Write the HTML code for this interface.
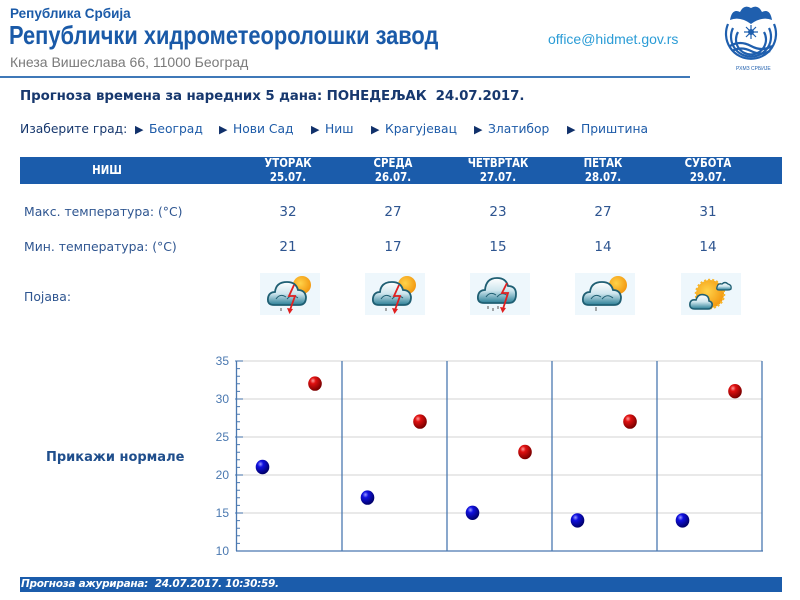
<!DOCTYPE html>
<html><head><meta charset="utf-8">
<style>
*{margin:0;padding:0;box-sizing:border-box}
body{width:800px;height:600px;background:#fff;position:relative;overflow:hidden;font-family:"DejaVu Sans","Liberation Sans",sans-serif}
.a{position:absolute;white-space:nowrap}
.hd{font-family:"Liberation Sans",sans-serif;color:#1a5aa8;font-weight:bold}
.lbl{color:#2e5590;font-size:12.4px;line-height:14px}
.num{color:#2e5590;font-size:13.5px;line-height:14px;width:60px;text-align:center}
.th{color:#fff;font-weight:bold;font-size:12px;line-height:13.5px;text-align:center;width:120px;transform:scaleX(0.85);transform-origin:center top}
.lk{color:#1d5ba8;font-size:12.3px;line-height:15px;top:122px}
.ar{color:#10306a;font-size:11px;line-height:15px;top:122px}
.ic{position:absolute;width:60px;height:42px;background:#eef7fc}
</style></head><body>

<div class="a hd" style="left:10px;top:6px;font-size:13.5px;line-height:16px">Република Србија</div>
<div class="a hd" style="left:9px;top:20px;font-size:26px;line-height:30px;transform:scaleX(0.84);transform-origin:left top">Републички хидрометеоролошки завод</div>
<div class="a" style="left:10px;top:54px;font-family:'Liberation Sans',sans-serif;font-size:14px;line-height:17px;color:#7a7a7a">Кнеза Вишеслава 66, 11000 Београд</div>
<div class="a" style="left:548px;top:31px;font-family:'Liberation Sans',sans-serif;font-size:14px;line-height:17px;color:#2b9cd6">office@hidmet.gov.rs</div>
<div class="a" style="left:0;top:76px;width:690px;height:2px;background:#3f78b8"></div>

<!-- logo -->
<svg class="a" style="left:718px;top:2px" width="66" height="72" viewBox="0 0 66 72">
<g fill="none" stroke="#1f5fae" stroke-width="2.2">
<path d="M10 22 A25 25 0 1 0 56 22"/>
<path d="M15 26 A20 20 0 1 0 51 26"/>
<path d="M20 30 A15 15 0 1 0 46 30"/>
<path d="M12 44 Q22 38 33 44 Q44 50 54 44"/>
<path d="M14 49 Q23 44 33 49 Q43 54 52 49"/>
</g>
<path d="M12 18 Q14 6 22 10 Q26 2 33 6 Q40 2 44 10 Q52 6 54 18 Q44 14 33 22 Q22 14 12 18Z" fill="#1f5fae"/>
<circle cx="33" cy="30" r="3" fill="#1f5fae"/>
<path d="M33 23V37M26 30H40M28 25L38 35M38 25L28 35" stroke="#1f5fae" stroke-width="1.2"/>
<text x="18" y="68" font-size="5" fill="#1f5fae" font-family="Liberation Sans">РХМЗ  СРБИЈЕ</text>
</svg>

<div class="a" style="left:20px;top:88px;font-size:13.4px;line-height:17px;font-weight:bold;color:#17386e;letter-spacing:-0.1px">Прогноза времена за наредних 5 дана: ПОНЕДЕЉАК&nbsp; 24.07.2017.</div>

<div class="a" style="left:20px;top:122px;font-size:12.3px;line-height:15px;color:#17386e">Изаберите град:</div>
<div class="a ar" style="left:135px">▶</div><div class="a lk" style="left:149px">Београд</div>
<div class="a ar" style="left:219px">▶</div><div class="a lk" style="left:233px">Нови Сад</div>
<div class="a ar" style="left:311px">▶</div><div class="a lk" style="left:325px">Ниш</div>
<div class="a ar" style="left:371px">▶</div><div class="a lk" style="left:385px">Крагујевац</div>
<div class="a ar" style="left:474px">▶</div><div class="a lk" style="left:488px">Златибор</div>
<div class="a ar" style="left:567px">▶</div><div class="a lk" style="left:581px">Приштина</div>

<div class="a" style="left:20px;top:157px;width:762px;height:27px;background:#1b5cab"></div>
<div class="a th" style="left:47px;top:164px">НИШ</div>
<div class="a th" style="left:228px;top:157px">УТОРАК<br>25.07.</div>
<div class="a th" style="left:333px;top:157px">СРЕДА<br>26.07.</div>
<div class="a th" style="left:438px;top:157px">ЧЕТВРТАК<br>27.07.</div>
<div class="a th" style="left:543px;top:157px">ПЕТАК<br>28.07.</div>
<div class="a th" style="left:648px;top:157px">СУБОТА<br>29.07.</div>

<div class="a lbl" style="left:24px;top:205px">Макс. температура: (°C)</div>
<div class="a num" style="left:258px;top:205px">32</div>
<div class="a num" style="left:363px;top:205px">27</div>
<div class="a num" style="left:468px;top:205px">23</div>
<div class="a num" style="left:573px;top:205px">27</div>
<div class="a num" style="left:678px;top:205px">31</div>

<div class="a lbl" style="left:24px;top:240px">Мин. температура: (°C)</div>
<div class="a num" style="left:258px;top:240px">21</div>
<div class="a num" style="left:363px;top:240px">17</div>
<div class="a num" style="left:468px;top:240px">15</div>
<div class="a num" style="left:573px;top:240px">14</div>
<div class="a num" style="left:678px;top:240px">14</div>

<div class="a lbl" style="left:24px;top:290px">Појава:</div>

<svg width="0" height="0" style="position:absolute">
<defs>
<linearGradient id="cg" x1="0" y1="0" x2="0" y2="1"><stop offset="0" stop-color="#ffffff"/><stop offset="0.5" stop-color="#cfe6ee"/><stop offset="1" stop-color="#2a7f96"/></linearGradient>
<radialGradient id="sg" cx="0.4" cy="0.4" r="0.6"><stop offset="0" stop-color="#ffd34a"/><stop offset="1" stop-color="#f39a12"/></radialGradient>
</defs>
</svg>

<!-- icons -->
<svg class="ic" style="left:260px;top:273px" viewBox="0 0 60 42">
<circle cx="42" cy="12" r="9" fill="url(#sg)"/>
<path d="M14 32 Q7 32 8 25 Q9 19 15 19 Q16 9 27 9 Q36 9 38 17 Q45 17 46 24 Q46 32 39 32 Z" fill="url(#cg)" stroke="#1f5f73" stroke-width="1.8"/>
<path d="M16 26 Q20 20 26 24 M27 26 Q32 20 38 25" fill="none" stroke="#1f5f73" stroke-width="1"/>
<path d="M34 12 L29 23 L35 23 L30 37" fill="none" stroke="#e02020" stroke-width="1.8"/><path d="M27 35 L29.5 41 L33 36Z" fill="#e02020"/>
<path d="M21 35 v3" stroke="#555" stroke-width="1"/>
</svg>
<svg class="ic" style="left:365px;top:273px" viewBox="0 0 60 42">
<circle cx="42" cy="12" r="9" fill="url(#sg)"/>
<path d="M14 32 Q7 32 8 25 Q9 19 15 19 Q16 9 27 9 Q36 9 38 17 Q45 17 46 24 Q46 32 39 32 Z" fill="url(#cg)" stroke="#1f5f73" stroke-width="1.8"/>
<path d="M16 26 Q20 20 26 24 M27 26 Q32 20 38 25" fill="none" stroke="#1f5f73" stroke-width="1"/>
<path d="M34 12 L29 23 L35 23 L30 37" fill="none" stroke="#e02020" stroke-width="1.8"/><path d="M27 35 L29.5 41 L33 36Z" fill="#e02020"/>
<path d="M21 35 v3" stroke="#555" stroke-width="1"/>
</svg>
<svg class="ic" style="left:470px;top:273px" viewBox="0 0 60 42">
<path d="M14 30 Q7 30 8 23 Q9 17 15 17 Q16 5 27 5 Q36 5 38 13 Q46 13 46 21 Q46 30 39 30 Z" fill="url(#cg)" stroke="#1f5f73" stroke-width="1.8"/>
<path d="M16 24 Q20 18 26 22 M27 24 Q32 18 38 23" fill="none" stroke="#1f5f73" stroke-width="1"/>
<path d="M37 10 L32 20 L38 20 L33 36" fill="none" stroke="#e02020" stroke-width="1.8"/><path d="M30 34 L32.5 40 L36 35Z" fill="#e02020"/>
<path d="M18 33 v3 M23 35 v3 M28 33 v3" stroke="#555" stroke-width="1"/>
</svg>
<svg class="ic" style="left:575px;top:273px" viewBox="0 0 60 42">
<circle cx="43" cy="12" r="9" fill="url(#sg)"/>
<path d="M14 32 Q7 32 8 25 Q9 19 15 19 Q16 9 27 9 Q36 9 38 17 Q45 17 46 24 Q46 32 39 32 Z" fill="url(#cg)" stroke="#1f5f73" stroke-width="1.8"/>
<path d="M16 26 Q20 20 26 24 M27 26 Q32 20 38 25" fill="none" stroke="#1f5f73" stroke-width="1"/>
<path d="M21 34 v4" stroke="#555" stroke-width="1"/>
</svg>
<svg class="ic" style="left:681px;top:273px" viewBox="0 0 60 42">
<circle cx="29" cy="21" r="14" fill="url(#sg)" stroke="#f7b52a" stroke-width="2.5" stroke-dasharray="2 2"/>
<path d="M38 17 Q35 17 36 14 Q37 10 41 11 Q44 8 47 11 Q51 12 50 16 Q49 17 47 17Z" fill="url(#cg)" stroke="#1f5f73" stroke-width="1.3"/>
<path d="M14 36 Q8 36 9 30 Q10 26 15 27 Q17 20 24 22 Q28 23 28 28 Q32 29 31 33 Q30 36 27 36Z" fill="url(#cg)" stroke="#1f5f73" stroke-width="1.6"/>
</svg>

<div class="a" style="left:46px;top:450px;font-size:13px;line-height:16px;font-weight:bold;color:#1f4e8c">Прикажи нормале</div>

<!-- chart -->
<svg class="a" style="left:0;top:0" width="800" height="600">
<defs>
<radialGradient id="rb" cx="0.35" cy="0.3" r="0.7"><stop offset="0" stop-color="#ff9a9a"/><stop offset="0.3" stop-color="#e01010"/><stop offset="1" stop-color="#7a0000"/></radialGradient>
<radialGradient id="bb" cx="0.35" cy="0.3" r="0.7"><stop offset="0" stop-color="#9a9aff"/><stop offset="0.3" stop-color="#1010e0"/><stop offset="1" stop-color="#00006a"/></radialGradient>
</defs>
<g stroke="#dcdcdc" stroke-width="1.2">
<line x1="237" y1="361" x2="762" y2="361"/>
<line x1="237" y1="399" x2="762" y2="399"/>
<line x1="237" y1="437" x2="762" y2="437"/>
<line x1="237" y1="475" x2="762" y2="475"/>
<line x1="237" y1="513" x2="762" y2="513"/>
</g>
<g stroke="#4a78b0" stroke-width="1.3">
<line x1="342" y1="361" x2="342" y2="551"/>
<line x1="447" y1="361" x2="447" y2="551"/>
<line x1="552" y1="361" x2="552" y2="551"/>
<line x1="657" y1="361" x2="657" y2="551"/>
<line x1="762" y1="361" x2="762" y2="551"/>
<line x1="236.5" y1="361" x2="236.5" y2="551"/>
<line x1="236" y1="551" x2="763" y2="551"/>
</g>
<g stroke="#4a78b0" stroke-width="1">
<path d="M236 368.6h4M236 376.2h4M236 383.8h4M236 391.4h4M236 406.6h4M236 414.2h4M236 421.8h4M236 429.4h4M236 444.6h4M236 452.2h4M236 459.8h4M236 467.4h4M236 482.6h4M236 490.2h4M236 497.8h4M236 505.4h4M236 520.6h4M236 528.2h4M236 535.8h4M236 543.4h4"/>
<path d="M235 361h8M235 399h8M235 437h8M235 475h8M235 513h8"/>
</g>
<g font-family="Liberation Sans, sans-serif" font-size="12" fill="#4a78b0" text-anchor="end">
<text x="229" y="365">35</text>
<text x="229" y="403">30</text>
<text x="229" y="441">25</text>
<text x="229" y="479">20</text>
<text x="229" y="517">15</text>
<text x="229" y="555">10</text>
</g>
<g>
<ellipse cx="262.5" cy="467" rx="6.8" ry="7.2" fill="url(#bb)"/>
<ellipse cx="367.5" cy="497.6" rx="6.8" ry="7.2" fill="url(#bb)"/>
<ellipse cx="472.5" cy="512.8" rx="6.8" ry="7.2" fill="url(#bb)"/>
<ellipse cx="577.5" cy="520.4" rx="6.8" ry="7.2" fill="url(#bb)"/>
<ellipse cx="682.5" cy="520.4" rx="6.8" ry="7.2" fill="url(#bb)"/>
<ellipse cx="315" cy="383.6" rx="6.8" ry="7.2" fill="url(#rb)"/>
<ellipse cx="420" cy="421.6" rx="6.8" ry="7.2" fill="url(#rb)"/>
<ellipse cx="525" cy="452" rx="6.8" ry="7.2" fill="url(#rb)"/>
<ellipse cx="630" cy="421.6" rx="6.8" ry="7.2" fill="url(#rb)"/>
<ellipse cx="735" cy="391.2" rx="6.8" ry="7.2" fill="url(#rb)"/>
</g>
</svg>

<div class="a" style="left:20px;top:577px;width:762px;height:15px;background:#1b5cab"></div>
<div class="a" style="left:21px;top:577px;font-size:10.5px;line-height:15px;font-weight:bold;font-style:italic;color:#fff;letter-spacing:-0.3px">Прогноза ажурирана:&nbsp; 24.07.2017. 10:30:59.</div>

</body></html>
